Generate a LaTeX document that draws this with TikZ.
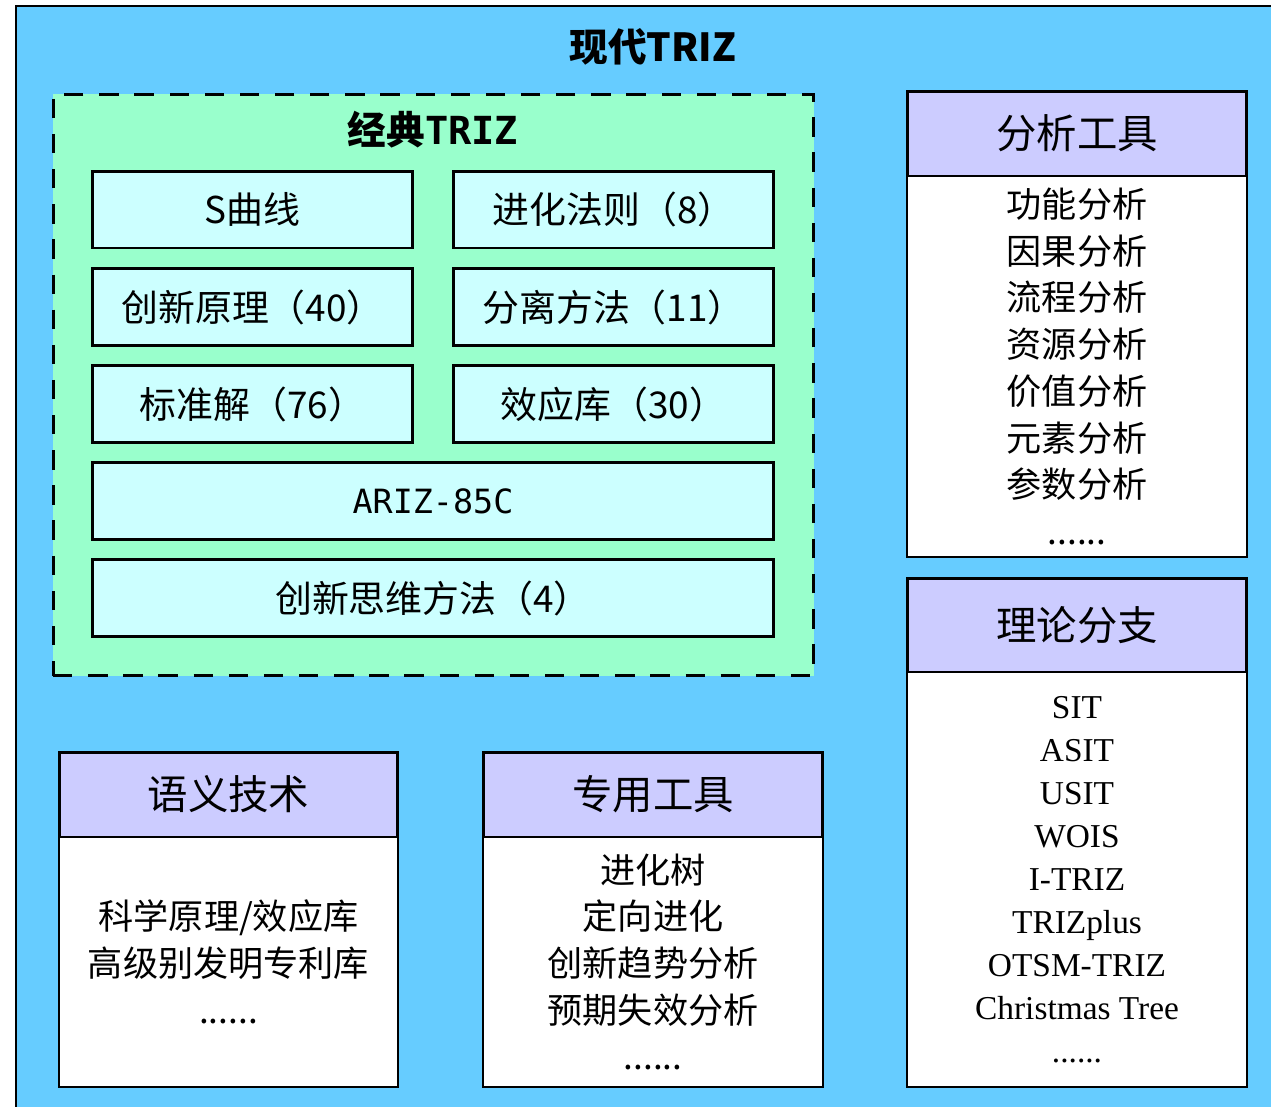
\documentclass[tikz,border=0pt]{standalone}
\usepackage{fontspec}
\setmainfont{Noto Sans CJK SC}
\newfontfamily\romanface{Liberation Serif}
\newfontfamily\monoface{DejaVu Sans Mono}
\usetikzlibrary{positioning}
\definecolor{skyblue}{HTML}{66CCFF}
\definecolor{mintgreen}{HTML}{99FFCC}
\definecolor{palecyan}{HTML}{CCFFFF}
\definecolor{lilac}{HTML}{CCCCFF}
\tikzstyle{box_item} = [draw, line width=1.7pt, fill=palecyan, inner sep=0pt, minimum width=6.42cm, minimum height=1.54cm, font=\fontsize{21}{25}\selectfont]
\tikzstyle{box_wide} = [box_item, minimum width=13.64cm]
\tikzstyle{box_head} = [draw, line width=1.7pt, fill=lilac, outer sep=0pt, minimum width=6.8cm, minimum height=1.7cm, font=\fontsize{23}{28}\selectfont]
\tikzstyle{box_body} = [draw, line width=1.3pt, fill=white, outer sep=0pt, inner sep=0pt, minimum width=6.8cm, align=center, font=\fontsize{20}{26.6}\selectfont]

\begin{document}
\begin{tikzpicture}[x=0.02cm, y=-0.02cm]
\useasboundingbox (0,0) rectangle (1271,1106);
\clip (0,0) rectangle (1271,1106);
\draw[line width=1.7pt, fill=skyblue] (16,6) rectangle (1300,1130);
\node (title) at (653,47) {\fontsize{22}{26}\selectfont\bfseries 现代TRIZ};

% classical TRIZ
\node (classic) at (433.5,385) [draw, line width=1.7pt, dash pattern=on 11pt off 9pt, fill=mintgreen, minimum width=15.22cm, minimum height=11.64cm] {};
\node (classic_title) at (433,130) {\fontsize{22}{26}\selectfont\bfseries 经典{\monoface TRIZ}};
\node (scurve) at (252.5,209.5) [box_item] {S曲线};
\node (laws) at (613.5,209.5) [box_item] {进化法则（8）};
\node (principles) at (252.5,307) [box_item] {创新原理（40）};
\node (separation) at (613.5,307) [box_item] {分离方法（11）};
\node (standard) at (252.5,404) [box_item] {标准解（76）};
\node (effects) at (613.5,404) [box_item] {效应库（30）};
\node (ariz) at (433,501) [box_wide] {\fontsize{19}{23}\selectfont\monoface ARIZ-85C};
\node (thinking) at (433,598) [box_wide] {创新思维方法（4）};

% analysis tools
\node (ana_head) at (1077,133.5) [box_head] {分析工具};
\node (ana_body) [box_body, minimum height=7.62cm, below=0pt of ana_head] {功能分析\\因果分析\\流程分析\\资源分析\\价值分析\\元素分析\\参数分析\\......};

% branches
\node (branch_head) at (1077,625) [box_head, minimum height=1.88cm] {理论分支};
\node (branch_body) [box_body, minimum height=8.3cm, below=0pt of branch_head, font=\fontsize{19}{24.5}\selectfont\romanface] {SIT\\ASIT\\USIT\\WOIS\\I-TRIZ\\TRIZplus\\OTSM-TRIZ\\Christmas Tree\\......};

% semantic technology
\node (sem_head) at (228.5,794.5) [box_head, minimum width=6.78cm] {语义技术};
\node (sem_body) [box_body, minimum width=6.78cm, minimum height=5cm, below=0pt of sem_head] {科学原理/效应库\\高级别发明专利库\\......};

% special tools
\node (spec_head) at (653,794.5) [box_head] {专用工具};
\node (spec_body) [box_body, minimum height=5cm, below=0pt of spec_head] {进化树\\定向进化\\创新趋势分析\\预期失效分析\\......};
\end{tikzpicture}
\end{document}
